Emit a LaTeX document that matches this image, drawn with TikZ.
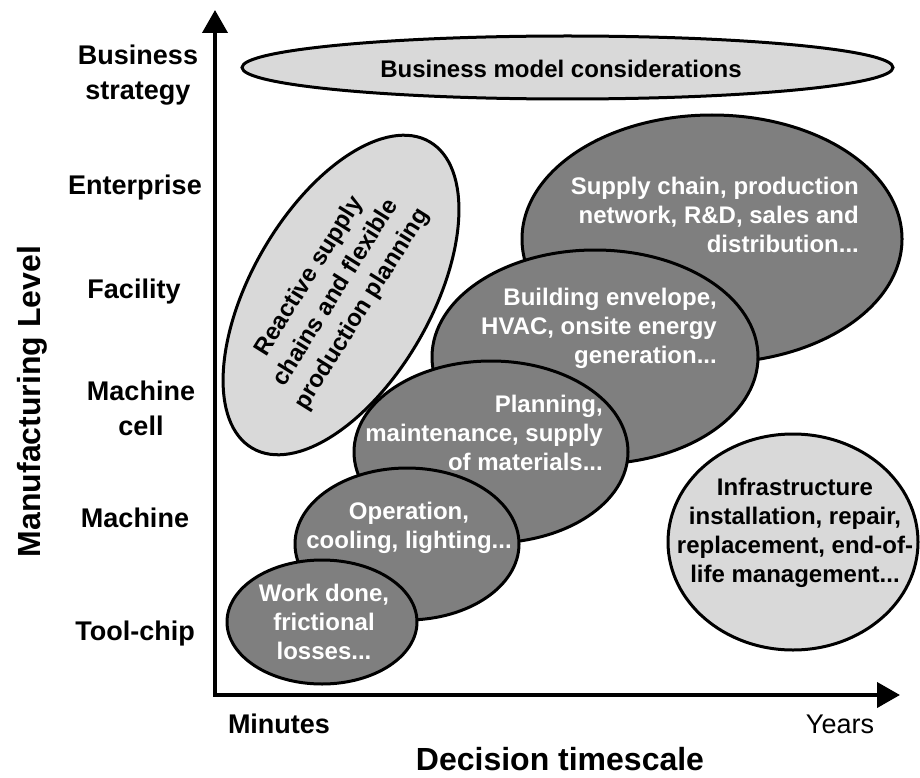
\documentclass[tikz,border=0pt]{standalone}
\usepackage{fontspec}
\setmainfont{Liberation Sans}
\usetikzlibrary{arrows.meta}
\definecolor{lgray}{RGB}{217,217,217}
\definecolor{dgray}{RGB}{127,127,127}
\begin{document}
\begin{tikzpicture}[x=1pt,y=-1pt,
  lightell/.style={draw=black, line width=3pt, fill=lgray},
  darkell/.style={draw=black, line width=3pt, fill=dgray},
  axislabel/.style={font=\fontsize{27}{35}\selectfont\bfseries, align=center, inner sep=0pt},
  intext/.style={font=\fontsize{24}{29}\selectfont\bfseries, inner sep=0pt, text=white},
  title/.style={font=\fontsize{32}{38}\selectfont\bfseries, inner sep=0pt},
  axisarrow/.style={line width=4pt, {Triangle[length=23pt,width=25pt]}-{Triangle[length=23pt,width=25pt]}}]
\useasboundingbox[fill=white] (0,0) rectangle (920,778);

% ellipse centres
\coordinate (bm) at (567.5,67.5);
\coordinate (rs) at (341,295);
\coordinate (sc) at (712,239);
\coordinate (be) at (595,357);
\coordinate (pl) at (491,452);
\coordinate (op) at (407,544);
\coordinate (wd) at (322,622);
\coordinate (in) at (793,542);

\draw[lightell] (bm) ellipse [x radius=325.5pt, y radius=31.5pt];
\draw[lightell, rotate around={60:(rs)}] (rs) ellipse [x radius=177pt, y radius=90pt];
\draw[darkell] (sc) ellipse [x radius=190pt, y radius=124pt];
\draw[darkell] (be) ellipse [x radius=163pt, y radius=107pt];
\draw[darkell] (pl) ellipse [x radius=137pt, y radius=91pt];
\draw[darkell] (op) ellipse [x radius=112pt, y radius=76pt];
\draw[darkell] (wd) ellipse [x radius=95pt, y radius=62pt];
\draw[lightell] (in) ellipse [x radius=125pt, y radius=108pt];

% ellipse texts
\node[intext, text=black] (t-bm) at (561,68.5) {Business model considerations};
\node[intext, text=black, align=center, rotate=58, font=\fontsize{24}{31}\selectfont\bfseries] (t-rs) at (336,293) {Reactive supply\\chains and flexible\\production planning};
\node[intext, align=right, anchor=east] (t-sc) at (859,215) {Supply chain, production\\network, R\&D, sales and\\distribution...};
\node[intext, align=right, anchor=east] (t-be) at (717,328) {Building envelope,\\HVAC, onsite energy\\generation...};
\node[intext, align=right, anchor=east] (t-pl) at (603,433) {Planning,\\maintenance, supply\\of materials...};
\node[intext, align=center] (t-op) at (409,528) {Operation,\\cooling, lighting...};
\node[intext, align=center] (t-wd) at (324,622) {Work done,\\frictional\\losses...};
\node[intext, align=center, text=black] (t-in) at (795,533) {Infrastructure\\installation, repair,\\replacement, end-of-\\life management...};

% axes
\coordinate (O) at (215,695);
\coordinate (ytip) at (215,10);
\coordinate (xtip) at (900,695);
\draw[axisarrow] (ytip) -- (O) -- (xtip);

% axis level labels
\node[axislabel] (l-bs) at (138,75) {Business\\strategy};
\node[axislabel, anchor=base] (l-en) at (135,194) {Enterprise};
\node[axislabel, anchor=base] (l-fa) at (134,298) {Facility};
\node[axislabel] (l-mc) at (141,408) {Machine\\cell};
\node[axislabel, anchor=base] (l-ma) at (135,527) {Machine};
\node[axislabel, anchor=base] (l-tc) at (135,640) {Tool-chip};
\node[axislabel, anchor=base] (l-min) at (279,733) {Minutes};
\node[axislabel, font=\fontsize{27}{35}\selectfont, anchor=base] (l-yr) at (840,733) {Years};

% axis titles
\node[title, anchor=base] (xt) at (560,770) {Decision timescale};
\node[title, anchor=base, rotate=90] (yt) at (40,401.5) {Manufacturing Level};
\end{tikzpicture}
\end{document}
